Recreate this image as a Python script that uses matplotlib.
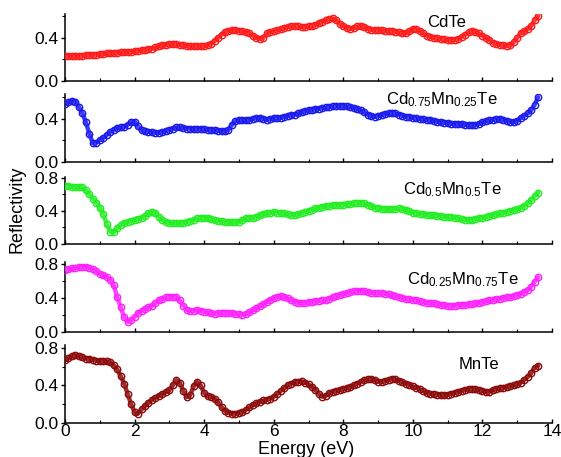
import numpy as np
import matplotlib
matplotlib.use("Agg")
import matplotlib.pyplot as plt
from matplotlib.ticker import MultipleLocator

plt.rcParams['font.family'] = ['Liberation Sans', 'DejaVu Sans']
plt.rcParams['mathtext.fontset'] = 'custom'
plt.rcParams['mathtext.rm'] = 'Liberation Sans'
plt.rcParams['mathtext.it'] = 'Liberation Sans:italic'

# Photon energy grid (eV)
energy = np.round(np.arange(0, 13.61, 0.1), 1)

cdte = [
    0.23, 0.23, 0.23, 0.23, 0.235, 0.235, 0.24, 0.24, 0.245, 0.245,
    0.25, 0.25, 0.255, 0.255, 0.26, 0.26, 0.265, 0.265, 0.27, 0.27,
    0.275, 0.28, 0.285, 0.29, 0.295, 0.30, 0.31, 0.32, 0.33, 0.335,
    0.34, 0.34, 0.34, 0.335, 0.33, 0.325, 0.32, 0.32, 0.32, 0.32,
    0.325, 0.33, 0.345, 0.37, 0.40, 0.43, 0.455, 0.465, 0.47, 0.47,
    0.465, 0.46, 0.45, 0.44, 0.42, 0.40, 0.39, 0.40, 0.44, 0.455,
    0.46, 0.47, 0.48, 0.49, 0.50, 0.505, 0.51, 0.505, 0.50, 0.50,
    0.505, 0.51, 0.52, 0.535, 0.55, 0.565, 0.575, 0.58, 0.56, 0.53,
    0.51, 0.49, 0.48, 0.49, 0.505, 0.51, 0.50, 0.485, 0.475, 0.47,
    0.47, 0.47, 0.465, 0.46, 0.46, 0.455, 0.45, 0.44, 0.44, 0.46,
    0.48, 0.48, 0.465, 0.44, 0.42, 0.41, 0.40, 0.395, 0.39, 0.385,
    0.38, 0.38, 0.38, 0.39, 0.41, 0.43, 0.45, 0.46, 0.455, 0.44,
    0.42, 0.40, 0.38, 0.355, 0.345, 0.335, 0.33, 0.326, 0.33, 0.36,
    0.40, 0.44, 0.46, 0.48, 0.51, 0.56, 0.60,
]

cd75 = [
    0.54, 0.555, 0.565, 0.56, 0.51, 0.45, 0.37, 0.26, 0.175, 0.18,
    0.205, 0.225, 0.25, 0.28, 0.30, 0.315, 0.32, 0.325, 0.345, 0.37,
    0.375, 0.33, 0.295, 0.285, 0.28, 0.275, 0.27, 0.27, 0.275, 0.285,
    0.30, 0.31, 0.32, 0.32, 0.315, 0.31, 0.31, 0.305, 0.31, 0.31,
    0.305, 0.30, 0.295, 0.295, 0.29, 0.285, 0.285, 0.30, 0.345, 0.38,
    0.39, 0.385, 0.385, 0.39, 0.40, 0.41, 0.41, 0.40, 0.39, 0.40,
    0.405, 0.41, 0.41, 0.42, 0.43, 0.435, 0.44, 0.45, 0.46, 0.47,
    0.48, 0.485, 0.49, 0.495, 0.50, 0.505, 0.51, 0.515, 0.52, 0.52,
    0.52, 0.515, 0.51, 0.50, 0.49, 0.48, 0.46, 0.44, 0.425, 0.42,
    0.425, 0.435, 0.445, 0.45, 0.455, 0.45, 0.44, 0.43, 0.42, 0.42,
    0.41, 0.405, 0.40, 0.395, 0.39, 0.39, 0.38, 0.375, 0.37, 0.365,
    0.36, 0.355, 0.355, 0.35, 0.35, 0.345, 0.34, 0.34, 0.345, 0.355,
    0.37, 0.38, 0.385, 0.39, 0.395, 0.40, 0.39, 0.38, 0.37, 0.37,
    0.38, 0.41, 0.43, 0.45, 0.48, 0.53, 0.60,
]

cd50 = [
    0.70, 0.70, 0.695, 0.69, 0.69, 0.685, 0.65, 0.60, 0.55, 0.50,
    0.44, 0.36, 0.24, 0.15, 0.14, 0.19, 0.23, 0.255, 0.27, 0.28,
    0.29, 0.305, 0.32, 0.34, 0.37, 0.385, 0.375, 0.33, 0.29, 0.265,
    0.255, 0.25, 0.25, 0.25, 0.255, 0.265, 0.28, 0.295, 0.31, 0.315,
    0.32, 0.315, 0.30, 0.285, 0.28, 0.275, 0.27, 0.265, 0.26, 0.26,
    0.27, 0.29, 0.31, 0.315, 0.32, 0.33, 0.345, 0.36, 0.37, 0.38,
    0.385, 0.38, 0.375, 0.37, 0.36, 0.35, 0.35, 0.36, 0.375, 0.39,
    0.40, 0.415, 0.43, 0.44, 0.45, 0.46, 0.465, 0.47, 0.475, 0.475,
    0.475, 0.48, 0.485, 0.49, 0.495, 0.495, 0.49, 0.475, 0.46, 0.44,
    0.43, 0.425, 0.42, 0.42, 0.42, 0.425, 0.43, 0.425, 0.41, 0.395,
    0.38, 0.37, 0.365, 0.36, 0.355, 0.35, 0.345, 0.34, 0.335, 0.33,
    0.33, 0.325, 0.32, 0.31, 0.30, 0.295, 0.29, 0.29, 0.30, 0.31,
    0.32, 0.33, 0.34, 0.35, 0.36, 0.37, 0.38, 0.39, 0.40, 0.41,
    0.42, 0.44, 0.46, 0.49, 0.53, 0.58, 0.62,
]

cd25 = [
    0.725, 0.735, 0.745, 0.755, 0.76, 0.765, 0.765, 0.755, 0.735, 0.71,
    0.685, 0.665, 0.645, 0.61, 0.55, 0.41, 0.29, 0.175, 0.12, 0.14,
    0.175, 0.22, 0.25, 0.27, 0.29, 0.31, 0.34, 0.37, 0.39, 0.405,
    0.41, 0.415, 0.41, 0.37, 0.31, 0.26, 0.245, 0.25, 0.255, 0.25,
    0.24, 0.23, 0.22, 0.215, 0.22, 0.225, 0.225, 0.225, 0.22, 0.215,
    0.21, 0.205, 0.21, 0.23, 0.255, 0.28, 0.30, 0.325, 0.35, 0.375,
    0.40, 0.415, 0.42, 0.41, 0.395, 0.375, 0.355, 0.345, 0.34, 0.345,
    0.35, 0.355, 0.36, 0.365, 0.37, 0.375, 0.39, 0.405, 0.42, 0.435,
    0.445, 0.455, 0.465, 0.475, 0.48, 0.48, 0.475, 0.465, 0.46, 0.46,
    0.46, 0.455, 0.45, 0.44, 0.43, 0.42, 0.41, 0.40, 0.39, 0.385,
    0.38, 0.37, 0.36, 0.35, 0.345, 0.34, 0.335, 0.325, 0.32, 0.315,
    0.31, 0.31, 0.31, 0.315, 0.32, 0.32, 0.325, 0.33, 0.335, 0.34,
    0.35, 0.36, 0.37, 0.38, 0.385, 0.39, 0.40, 0.41, 0.415, 0.425,
    0.435, 0.45, 0.47, 0.49, 0.53, 0.59, 0.64,
]

mnte = [
    0.67, 0.69, 0.71, 0.72, 0.71, 0.70, 0.685, 0.685, 0.675, 0.665,
    0.66, 0.655, 0.655, 0.645, 0.615, 0.57, 0.50, 0.42, 0.31, 0.20,
    0.115, 0.10, 0.145, 0.18, 0.215, 0.25, 0.27, 0.29, 0.31, 0.33,
    0.35, 0.40, 0.455, 0.43, 0.34, 0.275, 0.30, 0.39, 0.435, 0.40,
    0.32, 0.285, 0.28, 0.26, 0.22, 0.17, 0.13, 0.11, 0.10, 0.10,
    0.105, 0.115, 0.14, 0.165, 0.19, 0.21, 0.225, 0.24, 0.25, 0.26,
    0.28, 0.31, 0.34, 0.37, 0.40, 0.42, 0.435, 0.44, 0.445, 0.43,
    0.41, 0.385, 0.35, 0.31, 0.28, 0.29, 0.32, 0.33, 0.34, 0.35,
    0.36, 0.37, 0.38, 0.40, 0.42, 0.44, 0.455, 0.465, 0.47, 0.46,
    0.44, 0.435, 0.445, 0.46, 0.47, 0.465, 0.45, 0.435, 0.42, 0.405,
    0.39, 0.375, 0.36, 0.34, 0.32, 0.31, 0.305, 0.30, 0.295, 0.295,
    0.30, 0.31, 0.32, 0.33, 0.345, 0.355, 0.365, 0.365, 0.36, 0.35,
    0.34, 0.33, 0.335, 0.35, 0.36, 0.37, 0.375, 0.38, 0.39, 0.40,
    0.41, 0.43, 0.46, 0.49, 0.53, 0.59, 0.61,
]

labels = ['CdTe',
          r'Cd$_{\mathregular{0.75}}$Mn$_{\mathregular{0.25}}$Te',
          r'Cd$_{\mathregular{0.5}}$Mn$_{\mathregular{0.5}}$Te',
          r'Cd$_{\mathregular{0.25}}$Mn$_{\mathregular{0.75}}$Te',
          'MnTe']
series = [cdte, cd75, cd50, cd25, mnte]
colors = ['#ff1a1a', '#1a1aee', '#22ee22', '#ff22ff', '#8b0a0a']

W, H = 561, 457
fig = plt.figure(figsize=(W / 100, H / 100), dpi=100)

# (top px, bottom px, ymax, yticks, label x, label y)
layout = [
    (14, 81, 0.62, [0.0, 0.4], 10.4, 0.54),
    (94, 162, 0.63, [0.0, 0.4], 9.24, 0.58),
    (177, 244, 0.81, [0.0, 0.4, 0.8], 9.72, 0.66),
    (262, 332, 0.82, [0.0, 0.4, 0.8], 9.84, 0.615),
    (345, 423, 0.83, [0.0, 0.4, 0.8], 11.33, 0.62),
]

left_px, right_px = 65, 552
axes = []
for i, (top, bot, ymax, yt, lx, ly) in enumerate(layout):
    ax = fig.add_axes([left_px / W, 1 - bot / H, (right_px - left_px) / W, (bot - top) / H])
    ax.plot(energy, series[i], '-', color=colors[i], lw=3.2, alpha=0.85, zorder=2,
            solid_capstyle='round')
    ax.plot(energy, series[i], 'o', mfc='none', mec=colors[i], ms=4.6, mew=1.0, zorder=3)
    ax.set_xlim(0, 14)
    ax.set_ylim(0, ymax)
    ax.set_yticks(yt)
    ax.set_yticklabels([f'{v:.1f}' for v in yt])
    ax.yaxis.set_minor_locator(MultipleLocator(0.2))
    ax.xaxis.set_major_locator(MultipleLocator(2))
    ax.xaxis.set_minor_locator(MultipleLocator(1))
    for s in ['top', 'right']:
        ax.spines[s].set_visible(False)
    for s in ['left', 'bottom']:
        ax.spines[s].set_linewidth(1.1)
    ax.tick_params(axis='y', which='major', direction='out', length=3, width=1, labelsize=12.5, pad=1.5)
    ax.tick_params(axis='y', which='minor', direction='out', length=2, width=0.8)
    ax.tick_params(axis='x', which='major', direction='in', length=3, width=1, labelsize=12.5, pad=1)
    ax.tick_params(axis='x', which='minor', direction='in', length=2.5, width=0.8)
    if i < 4:
        ax.tick_params(axis='x', which='both', labelbottom=False)
    else:
        ax.set_xticks([0, 2, 4, 6, 8, 10, 12, 14])
    ax.text(lx, ly, labels[i], fontsize=12, ha='left', va='center')
    axes.append(ax)

fig.text(17 / W, 1 - 209 / H, 'Reflectivity', rotation=90, ha='center', va='center', fontsize=13)
fig.text(306 / W, 1 - 441 / H, 'Energy (eV)', ha='center', va='top', fontsize=13)

fig.savefig('out.png', dpi=100)
